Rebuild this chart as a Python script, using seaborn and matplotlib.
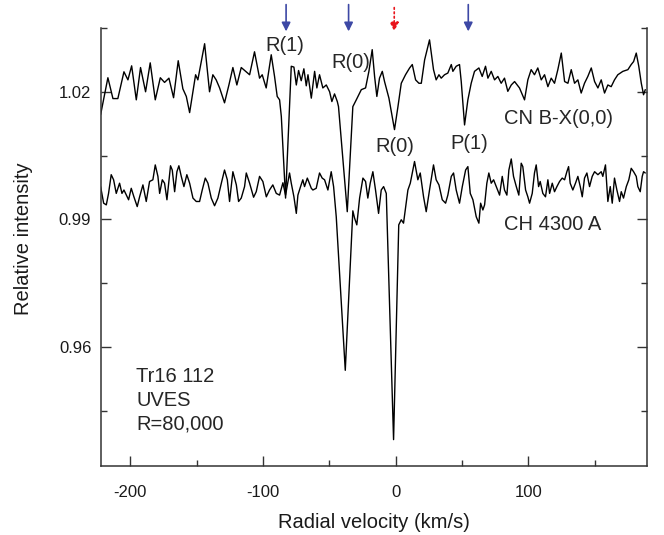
import numpy as np
import pandas as pd
import seaborn as sns
import matplotlib.pyplot as plt
from matplotlib.ticker import MultipleLocator

# CN B-X(0,0) spectrum (upper trace)
cn_vel = [-222.3, -216.8, -213.0, -209.3, -204.7, -201.7, -198.9, -195.4, -192.2, -188.4,
          -184.9, -181.1, -177.3, -174.1, -170.8, -167.3, -163.8, -160.3, -157.7, -155.2,
          -150.7, -149.0, -143.9, -140.2, -137.7, -135.2, -132.6, -128.9, -125.6, -122.6,
          -119.6, -116.3, -113.0, -110.0, -106.3, -102.5, -100.5, -97.5, -93.7, -91.2,
          -89.2, -87.4, -86.1, -82.9, -78.6, -76.6, -74.8, -73.1, -71.1, -69.1,
          -67.3, -66.0, -63.5, -61.0, -59.3, -57.3, -54.8, -52.2, -49.7, -48.0,
          -46.0, -43.9, -43.0, -36.4, -32.2, -29.6, -25.8, -22.6, -20.1, -17.6,
          -15.8, -14.1, -12.1, -10.0, -8.3, -7.0, -5.0, -0.8, 1.8, 4.3,
          7.5, 10.6, 12.6, 15.1, 17.6, 19.4, 21.9, 25.6, 28.6, 30.6,
          32.7, 34.4, 36.9, 39.4, 42.0, 43.2, 45.7, 48.2, 49.5, 52.0,
          54.5, 57.0, 59.5, 62.8, 65.3, 67.8, 69.6, 72.1, 74.6, 77.1,
          79.6, 82.1, 84.6, 87.2, 89.7, 93.4, 97.2, 99.7, 102.2, 104.7,
          107.2, 109.8, 112.3, 114.8, 117.3, 119.8, 122.3, 124.9, 127.4, 129.9,
          132.4, 134.9, 137.4, 139.9, 142.4, 144.9, 147.5, 150.0, 152.5, 155.0,
          157.5, 160.0, 162.5, 165.0, 167.5, 171.3, 175.1, 177.6, 179.4, 181.4,
          183.3, 185.2, 186.9, 188.2]
cn_int = [1.0146, 1.0233, 1.0184, 1.0184, 1.0247, 1.0228, 1.0261, 1.0181, 1.0257, 1.0200,
          1.0268, 1.0181, 1.0233, 1.0222, 1.0232, 1.0186, 1.0273, 1.0207, 1.0189, 1.0151,
          1.0240, 1.0228, 1.0313, 1.0200, 1.0240, 1.0228, 1.0209, 1.0174, 1.0216, 1.0257,
          1.0216, 1.0257, 1.0248, 1.0240, 1.0294, 1.0232, 1.0240, 1.0209, 1.0287, 1.0236,
          1.0189, 1.0181, 1.0142, 0.9950, 1.0260, 1.0258, 1.0216, 1.0250, 1.0226, 1.0254,
          1.0214, 1.0240, 1.0185, 1.0248, 1.0209, 1.0240, 1.0209, 1.0216, 1.0200, 1.0177,
          1.0195, 1.0177, 1.0165, 0.9918, 1.0165, 1.0181, 1.0205, 1.0209, 1.0248, 1.0299,
          1.0236, 1.0189, 1.0232, 1.0248, 1.0224, 1.0209, 1.0185, 1.0111, 1.0165, 1.0220,
          1.0240, 1.0256, 1.0264, 1.0228, 1.0220, 1.0220, 1.0275, 1.0322, 1.0252, 1.0228,
          1.0240, 1.0232, 1.0240, 1.0244, 1.0264, 1.0248, 1.0260, 1.0264, 1.0224, 1.0122,
          1.0181, 1.0220, 1.0248, 1.0256, 1.0236, 1.0260, 1.0232, 1.0248, 1.0228, 1.0236,
          1.0220, 1.0232, 1.0201, 1.0216, 1.0224, 1.0209, 1.0181, 1.0228, 1.0252, 1.0240,
          1.0256, 1.0228, 1.0240, 1.0212, 1.0232, 1.0220, 1.0252, 1.0291, 1.0224, 1.0220,
          1.0252, 1.0220, 1.0228, 1.0197, 1.0220, 1.0236, 1.0256, 1.0224, 1.0209, 1.0228,
          1.0197, 1.0216, 1.0212, 1.0228, 1.0240, 1.0248, 1.0252, 1.0264, 1.0271, 1.0291,
          1.0260, 1.0220, 1.0193, 1.0205]

# CH 4300 A spectrum (lower trace)
ch_vel = [-222.3, -220.0, -218.0, -216.3, -214.3, -212.5, -210.5, -208.0, -206.2, -204.7,
          -202.9, -201.2, -199.2, -197.2, -194.7, -192.9, -190.4, -187.9, -185.4, -182.9,
          -181.1, -179.1, -177.8, -175.8, -174.1, -172.3, -169.6, -168.3, -166.5, -164.8,
          -163.3, -161.5, -159.5, -157.3, -155.2, -152.7, -150.2, -147.7, -145.7, -143.4,
          -141.4, -138.9, -136.4, -133.9, -131.3, -128.9, -126.8, -125.1, -122.6, -120.0,
          -118.3, -116.3, -113.8, -112.5, -110.0, -107.0, -105.0, -102.5, -100.0, -97.4,
          -95.0, -92.5, -89.9, -87.4, -84.9, -82.9, -79.9, -78.6, -76.6, -74.8,
          -73.6, -71.6, -69.9, -68.6, -66.5, -63.5, -62.3, -59.8, -57.3, -55.3,
          -53.5, -51.0, -48.5, -46.7, -44.7, -37.9, -32.2, -30.9, -29.2, -27.1,
          -24.6, -22.6, -20.9, -19.1, -17.1, -15.1, -12.8, -10.8, -9.0, -7.0,
          -1.5, 2.4, 4.3, 6.0, 9.3, 11.1, 14.3, 16.8, 18.6, 21.1,
          23.1, 25.6, 28.6, 30.6, 32.7, 35.2, 37.7, 39.4, 42.0, 43.7,
          45.7, 48.2, 50.3, 52.8, 54.5, 56.3, 58.3, 60.8, 62.8, 64.1,
          65.8, 67.1, 68.8, 70.3, 72.1, 73.9, 75.9, 78.4, 80.4, 82.1,
          83.9, 85.4, 87.2, 88.9, 91.0, 92.9, 94.7, 95.9, 98.0, 99.7,
          101.0, 103.0, 104.7, 106.0, 107.8, 109.0, 111.0, 113.0, 114.8, 116.1,
          118.1, 119.8, 121.6, 123.6, 125.6, 127.4, 129.1, 130.4, 131.6, 133.6,
          135.6, 137.4, 139.2, 140.7, 142.4, 144.2, 146.2, 148.2, 150.0, 152.5,
          155.0, 156.2, 158.2, 160.0, 161.8, 163.3, 165.0, 166.8, 168.8, 170.1,
          171.8, 173.9, 175.8, 177.6, 179.4, 181.4, 182.6, 184.4, 185.9, 186.9,
          188.2]
ch_int = [0.9977, 0.9938, 0.9934, 0.9961, 1.0005, 0.9993, 0.9961, 0.9985, 0.9961, 0.9969,
          0.9957, 0.9946, 0.9973, 0.9953, 0.9930, 0.9953, 0.9981, 0.9942, 0.9989, 0.9993,
          1.0028, 1.0001, 0.9961, 0.9993, 0.9985, 0.9946, 1.0026, 1.0016, 0.9965, 1.0012,
          1.0026, 1.0001, 0.9977, 1.0005, 0.9985, 0.9950, 0.9942, 0.9942, 0.9969, 0.9997,
          0.9985, 0.9950, 0.9932, 0.9950, 0.9985, 1.0016, 0.9993, 0.9942, 1.0012, 0.9981,
          0.9942, 0.9950, 0.9977, 1.0009, 0.9985, 0.9952, 0.9965, 1.0001, 0.9989, 0.9953,
          0.9969, 0.9981, 0.9961, 0.9957, 0.9986, 0.9957, 1.0009, 0.9985, 0.9953, 0.9914,
          0.9957, 0.9977, 0.9993, 0.9977, 0.9997, 0.9973, 0.9969, 0.9973, 1.0009, 0.9997,
          0.9993, 0.9969, 1.0012, 0.9977, 0.9906, 0.9545, 0.9920, 0.9903, 0.9887, 0.9950,
          0.9997, 0.9989, 0.9950, 0.9985, 1.0012, 0.9969, 0.9914, 0.9969, 0.9977, 0.9961,
          0.9382, 0.9887, 0.9899, 0.9891, 0.9969, 0.9985, 1.0036, 0.9993, 1.0009, 0.9953,
          0.9918, 0.9969, 1.0028, 0.9993, 0.9981, 0.9946, 0.9938, 0.9957, 1.0001, 1.0009,
          0.9969, 0.9938, 0.9977, 1.0016, 1.0024, 0.9961, 0.9946, 0.9906, 0.9891, 0.9938,
          0.9922, 0.9934, 0.9985, 1.0009, 0.9985, 0.9993, 0.9977, 0.9957, 1.0001, 0.9969,
          0.9957, 1.0016, 1.0042, 1.0001, 0.9977, 0.9957, 1.0032, 1.0024, 0.9969, 0.9953,
          0.9938, 0.9961, 1.0009, 1.0028, 0.9977, 0.9989, 0.9961, 0.9953, 0.9993, 0.9961,
          0.9985, 0.9965, 0.9977, 0.9989, 0.9997, 0.9993, 1.0012, 1.0024, 0.9985, 0.9969,
          0.9985, 1.0001, 0.9977, 0.9953, 0.9997, 1.0009, 0.9977, 1.0001, 1.0012, 1.0005,
          1.0012, 1.0001, 1.0028, 0.9942, 0.9977, 0.9938, 0.9997, 0.9969, 0.9942, 0.9965,
          0.9950, 0.9977, 0.9993, 1.0020, 1.0012, 1.0001, 0.9977, 0.9965, 1.0001, 1.0012,
          1.0009]

# line markers at the top
line_names = ['R(1)', 'R(0)', 'R(0)', 'P(1)']
line_vel = [-82.5, -35.4, -1.0, 54.8]
arrow_colors = ['#3d48a5', '#3d48a5', '#e8141b', '#3d48a5']

sns.set_theme(style="ticks")
plt.rcParams['font.family'] = ['Liberation Sans', 'DejaVu Sans']
plt.rcParams['axes.unicode_minus'] = False

fig = plt.figure(figsize=(6.64, 5.35), dpi=100)
ax = fig.add_axes([0.1521, 0.1290, 0.8223, 0.8187])

cn = pd.DataFrame({'vel': cn_vel, 'intensity': cn_int})
ch = pd.DataFrame({'vel': ch_vel, 'intensity': ch_int})
sns.lineplot(data=cn, x='vel', y='intensity', color='black', lw=1.0,
             estimator=None, sort=False, ax=ax)
sns.lineplot(data=ch, x='vel', y='intensity', color='black', lw=1.0,
             estimator=None, sort=False, ax=ax)

ax.set_xlim(-222, 189.5)
ax.set_ylim(0.932, 1.035)
ax.xaxis.set_major_locator(MultipleLocator(100))
ax.xaxis.set_minor_locator(MultipleLocator(50))
ax.yaxis.set_major_locator(MultipleLocator(0.03))
ax.yaxis.set_minor_locator(MultipleLocator(0.015))

ax.spines['top'].set_visible(False)
for s in ['left', 'right', 'bottom']:
    ax.spines[s].set_color('#333333')
    ax.spines[s].set_linewidth(1.1)
ax.tick_params(which='both', direction='in', left=True, right=True, bottom=True, top=False,
               color='#333333', width=1.0, labelsize=12, labelcolor='#1a1a1a')
ax.tick_params(which='major', length=7)
ax.tick_params(which='minor', length=4.5)
ax.tick_params(axis='y', which='major', pad=7)
ax.tick_params(axis='x', which='major', pad=14)

ax.set_xlabel('Radial velocity (km/s)', fontsize=14.5, color='#1a1a1a', labelpad=9)
ax.set_ylabel('Relative intensity', fontsize=14.5, color='#1a1a1a')
ax.yaxis.set_label_coords(-0.125, 0.52)

# arrows marking line positions
for v, c in zip(line_vel, arrow_colors):
    ls = ':' if c == '#e8141b' else '-'
    ax.annotate('', xy=(v, 1.0342), xytext=(v, 1.0405 if ls == '-' else 1.0398),
                xycoords='data', annotation_clip=False,
                arrowprops=dict(arrowstyle='-|>', color=c, lw=1.2, linestyle=ls,
                                mutation_scale=13, shrinkA=0, shrinkB=0))

fs = 14.5
ax.text(-83.6, 1.0308, line_names[0], fontsize=fs, ha='center', va='center')
ax.text(-34.0, 1.0268, line_names[1], fontsize=fs, ha='center', va='center')
ax.text(-0.4, 1.0071, line_names[2], fontsize=fs, ha='center', va='center')
ax.text(55.8, 1.0079, line_names[3], fontsize=fs, ha='center', va='center')
ax.text(82.1, 1.0138, 'CN B-X(0,0)', fontsize=fs, ha='left', va='center')
ax.text(82.1, 0.9887, 'CH 4300 A', fontsize=fs, ha='left', va='center')
ax.text(-195.4, 0.9474, 'Tr16 112\nUVES\nR=80,000', fontsize=fs, ha='left', va='center',
        linespacing=1.3)

fig.savefig('out.png', dpi=100)
